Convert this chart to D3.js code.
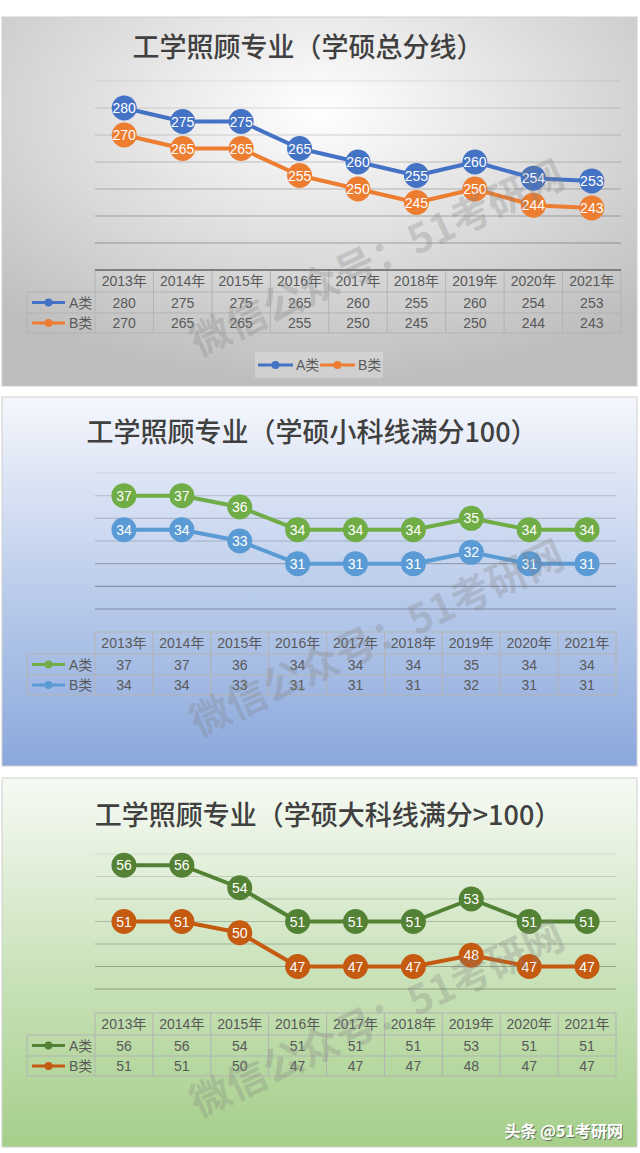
<!DOCTYPE html>
<html>
<head>
<meta charset="utf-8">
<script src="https://cdn.jsdelivr.net/npm/d3@7"></script>
<style>
  html, body { margin: 0; padding: 0; background: #fff; }
  svg { display: block; }
  text { font-family: "Liberation Sans", "Noto Sans CJK SC", sans-serif; }
  .cjk { font-family: "Noto Sans CJK SC", sans-serif; }
</style>
</head>
<body>
<svg id="chart" width="640" height="1153"></svg>
<script>
// dati
const years = ["2013年", "2014年", "2015年", "2016年", "2017年", "2018年", "2019年", "2020年", "2021年"];
const seriesNames = ["A类", "B类"];

const totalA = [280, 275, 275, 265, 260, 255, 260, 254, 253];
const totalB = [270, 265, 265, 255, 250, 245, 250, 244, 243];
const smallA = [37, 37, 36, 34, 34, 34, 35, 34, 34];
const smallB = [34, 34, 33, 31, 31, 31, 32, 31, 31];
const bigA = [56, 56, 54, 51, 51, 51, 53, 51, 51];
const bigB = [51, 51, 50, 47, 47, 47, 48, 47, 47];

const titles = ["工学照顾专业（学硕总分线）", "工学照顾专业（学硕小科线满分100）", "工学照顾专业（学硕大科线满分>100）"];
const ticks1 = [230, 240, 250, 260, 270, 280, 290];
const ticks2 = [27, 29, 31, 33, 35, 37, 39];
const ticks3 = [45, 47, 49, 51, 53, 55, 57];

const watermark = "微信公众号：51考研网";
const brand = "头条 @51考研网";

const svg = d3.select("#chart");
const defs = svg.append("defs");

// sfondi dei tre pannelli
const g1 = defs.append("radialGradient").attr("id", "bg1")
  .attr("cx", "50%").attr("cy", "25%").attr("r", "75%");
g1.append("stop").attr("offset", "0%").attr("stop-color", "#ffffff");
g1.append("stop").attr("offset", "100%").attr("stop-color", "#bdbdbd");

const g2 = defs.append("linearGradient").attr("id", "bg2").attr("x1", 0).attr("y1", 0).attr("x2", 0).attr("y2", 1);
g2.append("stop").attr("offset", "0%").attr("stop-color", "#f5f7fc");
g2.append("stop").attr("offset", "55%").attr("stop-color", "#b8caea");
g2.append("stop").attr("offset", "100%").attr("stop-color", "#8ba8dc");

const g3 = defs.append("linearGradient").attr("id", "bg3").attr("x1", 0).attr("y1", 0).attr("x2", 0).attr("y2", 1);
g3.append("stop").attr("offset", "0%").attr("stop-color", "#f6faf4");
g3.append("stop").attr("offset", "55%").attr("stop-color", "#c8e1b8");
g3.append("stop").attr("offset", "100%").attr("stop-color", "#a6cf8a");

const charts = [
  { top: 17, bg: "url(#bg1)", title: titles[0], titleSize: 27, titleX: 308, titleY: 30,
    a: totalA, b: totalB, ticks: ticks1, plotTop: 64, plotBottom: 226, right: 621,
    colors: ["#4472c4", "#ed7d31"], tableTop: 253, axisDark: true, legend: true },
  { top: 397, bg: "url(#bg2)", title: titles[1], titleSize: 27, titleX: 312, titleY: 35,
    a: smallA, b: smallB, ticks: ticks2, plotTop: 76, plotBottom: 212, right: 616,
    colors: ["#70ad47", "#5b9bd5"], tableTop: 235, axisDark: false, legend: false },
  { top: 778, bg: "url(#bg3)", title: titles[2], titleSize: 27, titleX: 328, titleY: 37,
    a: bigA, b: bigB, ticks: ticks3, plotTop: 76, plotBottom: 211, right: 616,
    colors: ["#548235", "#c55a11"], tableTop: 235, axisDark: false, legend: false }
];

const panelH = 369, left = 95, keyLeft = 27;
const rowH = [22, 21, 20];

function drawChart(c) {
  const g = svg.append("g").attr("transform", "translate(0," + c.top + ")");

  g.append("rect")
    .attr("x", 2).attr("y", 0).attr("width", 635).attr("height", panelH)
    .attr("fill", c.bg).attr("stroke", "#d0d0d0");

  g.append("text").attr("class", "cjk")
    .attr("x", c.titleX).attr("y", c.titleY).attr("dy", "0.36em")
    .attr("text-anchor", "middle")
    .attr("font-size", c.titleSize).attr("font-weight", 500)
    .attr("fill", "#404040")
    .text(c.title);

  const x = d3.scalePoint().domain(years).range([left, c.right]).padding(0.5);
  const y = d3.scaleLinear().domain(d3.extent(c.ticks)).range([c.plotBottom, c.plotTop]);

  // linee della griglia
  g.selectAll(".grid").data(c.ticks).enter().append("line")
    .attr("x1", left).attr("x2", c.right)
    .attr("y1", d => y(d)).attr("y2", d => y(d))
    .attr("stroke", "#000")
    .attr("stroke-opacity", (d, i) => 0.3 - i * 0.035)
    .attr("stroke-width", 1.2);

  const series = [c.a, c.b];
  const line = d3.line().x((d, i) => x(years[i])).y(d => y(d));

  series.forEach((vals, s) => {
    g.append("path").datum(vals)
      .attr("d", line).attr("fill", "none")
      .attr("stroke", c.colors[s]).attr("stroke-width", 4)
      .attr("stroke-linejoin", "round");
  });
  series.forEach((vals, s) => {
    const pts = g.selectAll(".pt" + s).data(vals).enter().append("g")
      .attr("transform", (d, i) => "translate(" + x(years[i]) + "," + y(d) + ")");
    pts.append("circle").attr("r", 12.5).attr("fill", c.colors[s]);
    pts.append("text")
      .attr("text-anchor", "middle").attr("dy", "0.36em")
      .attr("font-size", 14).attr("fill", "#fff")
      .text(d => d);
  });

  // tabella dati
  const band = d3.scaleBand().domain(years).range([left, c.right]);
  const t0 = c.tableTop, t1 = t0 + rowH[0], t2 = t1 + rowH[1], t3 = t2 + rowH[2];
  const tg = g.append("g");
  const gridCol = "#b3b3b3";

  tg.selectAll(".vl").data(years.concat([null])).enter().append("line")
    .attr("x1", (d, i) => left + i * band.step()).attr("x2", (d, i) => left + i * band.step())
    .attr("y1", t0).attr("y2", t3)
    .attr("stroke", gridCol);
  tg.append("line").attr("x1", keyLeft).attr("x2", keyLeft).attr("y1", t1).attr("y2", t3).attr("stroke", gridCol);
  [t1, t2, t3].forEach(yy => {
    tg.append("line").attr("x1", keyLeft).attr("x2", c.right).attr("y1", yy).attr("y2", yy).attr("stroke", gridCol);
  });
  tg.append("line").attr("x1", left).attr("x2", c.right).attr("y1", t0).attr("y2", t0)
    .attr("stroke", c.axisDark ? "#7f7f7f" : gridCol)
    .attr("stroke-width", c.axisDark ? 2 : 1);

  tg.selectAll(".hd").data(years).enter().append("text")
    .attr("x", d => band(d) + band.bandwidth() / 2).attr("y", (t0 + t1) / 2).attr("dy", "0.36em")
    .attr("text-anchor", "middle").attr("font-size", 14).attr("fill", "#595959")
    .text(d => d);

  series.forEach((vals, s) => {
    const ry = s === 0 ? (t1 + t2) / 2 : (t2 + t3) / 2;
    tg.selectAll(".cell" + s).data(vals).enter().append("text")
      .attr("x", (d, i) => band(years[i]) + band.bandwidth() / 2).attr("y", ry).attr("dy", "0.36em")
      .attr("text-anchor", "middle").attr("font-size", 14).attr("fill", "#595959")
      .text(d => d);
    tg.append("line").attr("x1", 32).attr("x2", 65).attr("y1", ry).attr("y2", ry)
      .attr("stroke", c.colors[s]).attr("stroke-width", 3);
    tg.append("circle").attr("cx", 48.5).attr("cy", ry).attr("r", 4).attr("fill", c.colors[s]);
    tg.append("text").attr("x", 69).attr("y", ry).attr("dy", "0.36em")
      .attr("font-size", 14).attr("fill", "#595959").text(seriesNames[s]);
  });

  if (c.legend) {
    const lg = g.append("g").attr("transform", "translate(255,335)");
    lg.append("rect").attr("width", 128).attr("height", 26).attr("fill", "#ffffff").attr("fill-opacity", 0.25);
    seriesNames.forEach((n, s) => {
      const ox = 3 + s * 62;
      lg.append("line").attr("x1", ox).attr("x2", ox + 35).attr("y1", 13).attr("y2", 13)
        .attr("stroke", c.colors[s]).attr("stroke-width", 3);
      lg.append("circle").attr("cx", ox + 17.5).attr("cy", 13).attr("r", 4).attr("fill", c.colors[s]);
      lg.append("text").attr("x", ox + 38).attr("y", 13).attr("dy", "0.36em")
        .attr("font-size", 14).attr("fill", "#595959").text(n);
    });
  }

  // filigrana
  g.append("text").attr("class", "cjk")
    .attr("transform", "translate(377,241) rotate(-25)")
    .attr("text-anchor", "middle").attr("dy", "0.36em")
    .attr("font-size", 40).attr("font-weight", 700)
    .attr("fill", "#808080").attr("fill-opacity", 0.28)
    .text(watermark);
}

charts.forEach(drawChart);

// firma in basso a destra
svg.append("text").attr("class", "cjk")
  .attr("x", 623).attr("y", 1131).attr("dy", "0.36em").attr("text-anchor", "end")
  .attr("font-size", 16).attr("font-weight", 700).attr("fill", "#333").attr("fill-opacity", 0.6)
  .attr("transform", "translate(1,1)")
  .text(brand);
svg.append("text").attr("class", "cjk")
  .attr("x", 623).attr("y", 1131).attr("dy", "0.36em").attr("text-anchor", "end")
  .attr("font-size", 16).attr("font-weight", 700).attr("fill", "#fff")
  .text(brand);
</script>
</body>
</html>
